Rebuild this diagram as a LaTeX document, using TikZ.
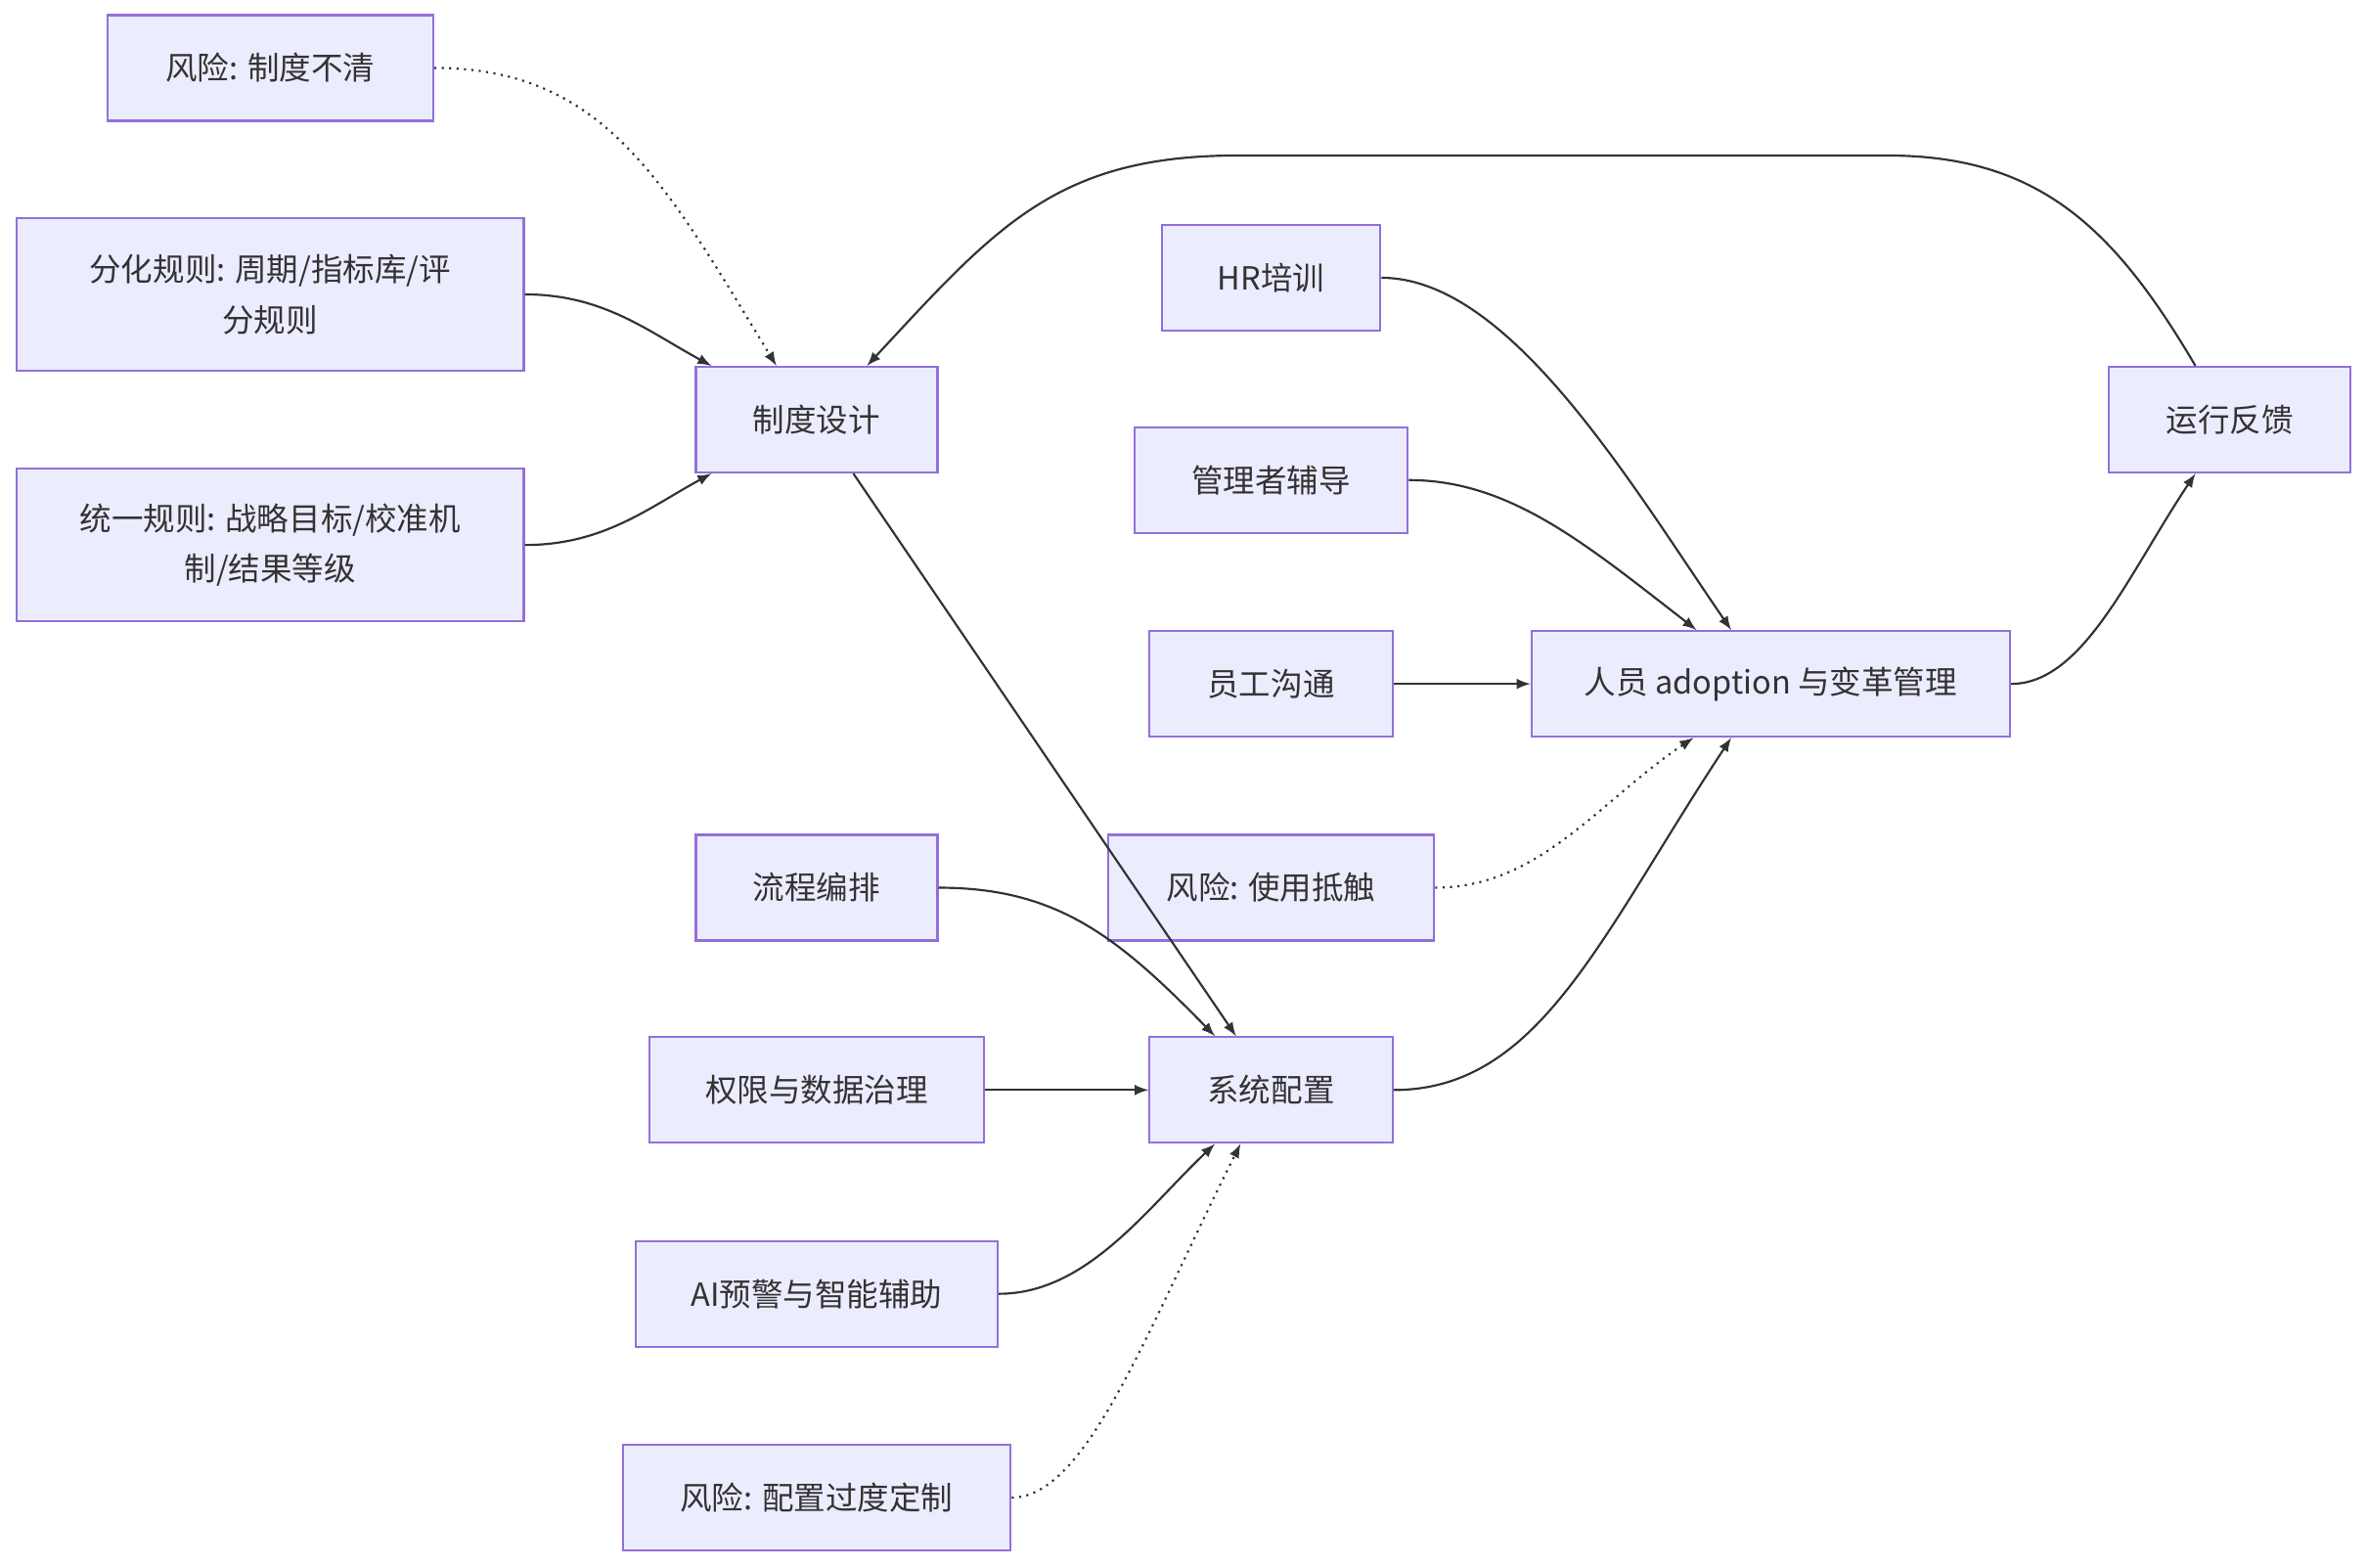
\documentclass[tikz,border=0pt]{standalone}
\usepackage{fontspec}
\setmainfont{Noto Sans CJK SC}
\usetikzlibrary{calc}
\definecolor{boxfill}{HTML}{ECECFF}
\definecolor{boxline}{HTML}{9370DB}
\definecolor{edge}{HTML}{333333}
\begin{document}
\begin{tikzpicture}[x=0.02cm,y=-0.02cm,
  box/.style={draw=boxline,fill=boxfill,line width=0.8pt,minimum height=1.4cm,
    align=center,inner sep=2pt,font=\fontsize{12}{19}\selectfont,text=edge},
  link/.style={draw=edge,line width=0.8pt,-latex},
  risk/.style={link,dotted}]
  \useasboundingbox (0,0) rectangle (1568,1038);

  \node[box,minimum width=4.32cm] (r1) at (179,45) {风险: 制度不清};
  \node[box,minimum width=6.72cm,minimum height=2.02cm] (fen) at (179,195) {分化规则: 周期/指标库/评\\分规则};
  \node[box,minimum width=6.72cm,minimum height=2.02cm] (tong) at (179,361) {统一规则: 战略目标/校准机\\制/结果等级};
  \node[box,minimum width=3.2cm] (zhidu) at (541,278) {制度设计};
  \node[box,minimum width=2.9cm] (hr) at (842,184) {HR培训};
  \node[box,minimum width=3.62cm] (guanli) at (842,318) {管理者辅导};
  \node[box,minimum width=3.22cm] (yuangong) at (842,453) {员工沟通};
  \node[box,minimum width=6.34cm] (renyuan) at (1173,453) {人员 adoption 与变革管理};
  \node[box,minimum width=3.2cm] (yunxing) at (1477,278) {运行反馈};
  \node[box,minimum width=3.2cm] (liucheng) at (541,588) {流程编排};
  \node[box,minimum width=4.32cm] (r2) at (842,588) {风险: 使用抵触};
  \node[box,minimum width=4.44cm] (quanxian) at (541,722) {权限与数据治理};
  \node[box,minimum width=3.22cm] (xitong) at (842,722) {系统配置};
  \node[box,minimum width=4.8cm] (ai) at (541,857) {AI预警与智能辅助};
  \node[box,minimum width=5.14cm] (r3) at (541,992) {风险: 配置过度定制};

  \coordinate (topR) at (1250,103);
  \coordinate (topL) at (820,103);

  % into the policy design
  \draw[risk] (r1.east) .. controls (400,45) and (440,120) .. ($(zhidu.north west)+(54,0)$);
  \draw[link] (fen.east) .. controls (400,195) and (430,220) .. ($(zhidu.north west)+(11,0)$);
  \draw[link] (tong.east) .. controls (400,361) and (430,336) .. ($(zhidu.south west)+(11,0)$);
  \draw[link] (yunxing.north west)++(58,0) .. controls (1400,150) and (1350,103) .. (topR)
    -- (topL) .. controls (700,103) and (660,150) .. ($(zhidu.north west)+(114,0)$);

  % into adoption
  \draw[link] (hr.east) .. controls (1000,184) and (1080,320) .. ($(renyuan.north west)+(133,0)$);
  \draw[link] (guanli.east) .. controls (1000,318) and (1050,360) .. ($(renyuan.north west)+(110,0)$);
  \draw[link] (yuangong) -- (renyuan);
  \draw[risk] (r2.east) .. controls (1020,588) and (1060,530) .. ($(renyuan.south west)+(108,0)$);
  \draw[link] (xitong.east) .. controls (1020,722) and (1060,620) .. ($(renyuan.south west)+(133,0)$);
  \draw[link] (renyuan.east) .. controls (1380,453) and (1410,380) .. ($(yunxing.south west)+(58,0)$);

  % into configuration
  \draw[link] ($(zhidu.south west)+(105,0)$) -- ($(xitong.north west)+(58,0)$);
  \draw[link] (liucheng.east) .. controls (700,588) and (740,620) .. ($(xitong.north west)+(44,0)$);
  \draw[link] (quanxian) -- (xitong);
  \draw[link] (ai.east) .. controls (720,857) and (760,800) .. ($(xitong.south west)+(44,0)$);
  \draw[risk] (r3.east) .. controls (720,992) and (760,880) .. ($(xitong.south west)+(61,0)$);
\end{tikzpicture}
\end{document}
